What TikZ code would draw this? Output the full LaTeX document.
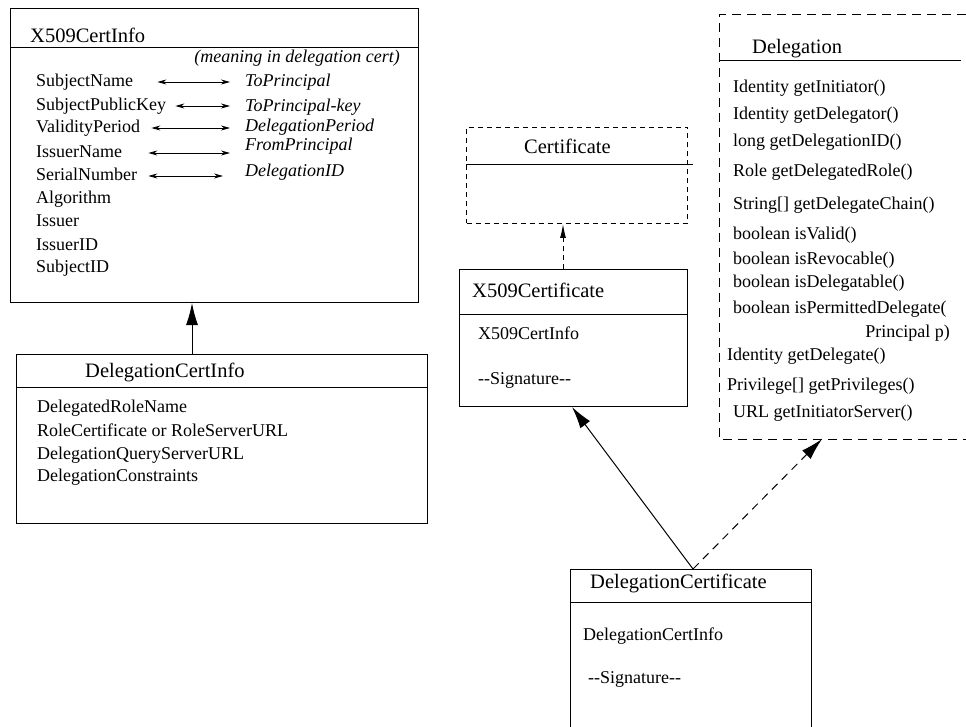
\documentclass[tikz,border=0pt]{standalone}
\usepackage{fontspec}
\setmainfont{Liberation Serif}
\usetikzlibrary{arrows.meta}
\begin{document}
\begin{tikzpicture}[x=1pt,y=-1pt,
  box/.style={draw, line width=1pt, inner sep=0pt, anchor=north west},
  finedash/.style={dash pattern=on 5pt off 4pt},
  longdash/.style={dash pattern=on 9pt off 6pt},
  rule/.style={line width=1pt},
  title/.style={font=\fontsize{20.5}{24}\selectfont, inner sep=0pt, anchor=west},
  item/.style={font=\fontsize{18}{21}\selectfont, inner sep=0pt, anchor=west,
               text height=13pt, text depth=4pt},
  meaning/.style={item, font=\fontsize{18}{21}\selectfont\itshape},
  maps/.style={line width=0.8pt,
    {Stealth[length=9pt,width=5pt]}-{Stealth[length=9pt,width=5pt]}},
  inherit/.style={line width=1pt, -{Latex[length=22pt,width=12pt]}},
  realize/.style={line width=1pt, dash pattern=on 8pt off 6pt,
    -{Latex[length=22pt,width=12pt]}},
  realizesmall/.style={line width=1pt, finedash,
    -{Latex[length=14pt,width=6pt]}},
]
\useasboundingbox (0,0) rectangle (966,727);

% ---- X509CertInfo ----
\node[box, minimum width=408pt, minimum height=294pt] (certinfo) at (10,8) {};
\draw[rule] (10,48) -- (418,48);
\node[title] (certinfoT) at (30,35) {X509CertInfo};
\node[meaning, anchor=east] (hdr) at (400,58) {(meaning in delegation cert)};

\node[item] (sn)  at (36,82)  {SubjectName};
\node[item] (spk) at (36,106) {SubjectPublicKey};
\node[item] (vp)  at (36,128) {ValidityPeriod};
\node[item] (in)  at (36,153) {IssuerName};
\node[item] (ser) at (36,176) {SerialNumber};
\node[item] (alg) at (36,199) {Algorithm};
\node[item] (iss) at (36,222) {Issuer};
\node[item] (iid) at (36,246) {IssuerID};
\node[item] (sid) at (36,268) {SubjectID};

\node[meaning] (tp)  at (245,82)  {ToPrincipal};
\node[meaning] (tpk) at (245,107) {ToPrincipal-key};
\node[meaning] (dp)  at (245,127) {DelegationPeriod};
\node[meaning] (fp)  at (245,146) {FromPrincipal};
\node[meaning] (did) at (245,172) {DelegationID};

\draw[maps, shorten <=24pt, shorten >=15pt] (sn.east)  -- (sn.east -| tp.west);
\draw[maps, shorten <=9pt,  shorten >=15pt] (spk.east) -- (spk.east -| tpk.west);
\draw[maps, shorten <=11pt, shorten >=15pt] (vp.east)  -- (vp.east -| dp.west);
\draw[maps, shorten <=26pt, shorten >=15pt] (in.east)  -- (in.east -| fp.west);
\draw[maps, shorten <=11pt, shorten >=22pt] (ser.east) -- (ser.east -| did.west);

% ---- DelegationCertInfo ----
\node[box, minimum width=411pt, minimum height=169pt] (dci) at (16,354) {};
\draw[rule] (16,387) -- (427,387);
\node[title] (dciT) at (85,372) {DelegationCertInfo};
\node[item] (drn) at (37,408) {DelegatedRoleName};
\node[item] (rc)  at (37,432) {RoleCertificate or RoleServerURL};
\node[item] (dq)  at (37,455) {DelegationQueryServerURL};
\node[item] (dc)  at (37,477) {DelegationConstraints};

\coordinate (upA) at (192,0);
\draw[inherit] (dci.north -| upA) -- (certinfo.south -| upA);

% ---- Certificate (abstract) ----
\node[box, finedash, minimum width=221pt, minimum height=96pt] (cert) at (466,127) {};
\draw[rule] (466,165) -- (693,165);
\node[title] (certT) at (524,146) {Certificate};

% ---- X509Certificate ----
\node[box, minimum width=228pt, minimum height=137pt] (xc) at (459,269) {};
\draw[rule] (459,314) -- (687,314);
\node[title] (xcT) at (472,290) {X509Certificate};
\node[item] (xci) at (478,335) {X509CertInfo};
\node[item] (xcs) at (478,380) {-{}-Signature-{}-};

\coordinate (upB) at (563,0);
\draw[realizesmall] (xc.north -| upB) -- (cert.south -| upB);

% ---- Delegation (interface) ----
\draw[line width=1pt, longdash] (966,15) -- (719,15) -- (719,439) -- (966,439);
\draw[rule] (719,61) -- (961,61);
\node[title] (delT) at (752,49) {Delegation};
\node[item] (m1)  at (733,88)  {Identity getInitiator()};
\node[item] (m2)  at (733,115) {Identity getDelegator()};
\node[item] (m3)  at (733,142) {long getDelegationID()};
\node[item] (m4)  at (733,172) {Role getDelegatedRole()};
\node[item] (m5)  at (733,205) {String[] getDelegateChain()};
\node[item] (m6)  at (733,235) {boolean isValid()};
\node[item] (m7)  at (733,260) {boolean isRevocable()};
\node[item] (m8)  at (733,283) {boolean isDelegatable()};
\node[item] (m9)  at (733,309) {boolean isPermittedDelegate(};
\node[item, anchor=east] (m9b) at (950,333) {Principal p)};
\node[item] (m10) at (727,356) {Identity getDelegate()};
\node[item] (m11) at (727,386) {Privilege[] getPrivileges()};
\node[item] (m12) at (733,413) {URL getInitiatorServer()};
\coordinate (delBase) at (822,439);

% ---- DelegationCertificate ----
\draw[line width=1pt] (570,727) -- (570,569) -- (811,569) -- (811,727);
\draw[rule] (570,602) -- (811,602);
\node[title] (dcT) at (590,583) {DelegationCertificate};
\node[item] (dcI) at (583,636) {DelegationCertInfo};
\node[item] (dcS) at (588,679) {-{}-Signature-{}-};
\coordinate (dcTop) at (693,569);
\coordinate (xcTip) at (572,0);

\draw[inherit] (dcTop) -- (xc.south -| xcTip);
\draw[realize] (dcTop) -- (delBase);
\end{tikzpicture}
\end{document}
